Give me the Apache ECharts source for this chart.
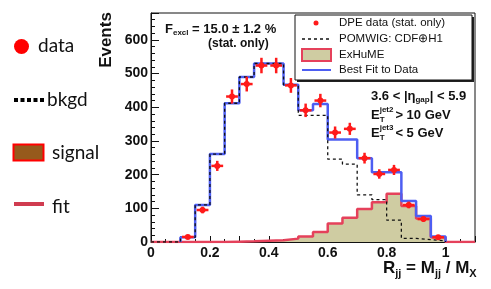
<!DOCTYPE html>
<html><head><meta charset="utf-8">
<script src="https://cdn.jsdelivr.net/npm/echarts@6/dist/echarts.min.js"></script>
<style>html,body{margin:0;padding:0;background:#fff}#c{width:491px;height:289px}</style>
</head><body><div id="c"></div>
<script>
// ---- data ----
const binWidth = 0.05;
const binStarts = [0,0.05,0.10,0.15,0.20,0.25,0.30,0.35,0.40,0.45,0.50,0.55,0.60,0.65,0.70,0.75,0.80,0.85,0.90,0.95,1.00,1.05];
const fitValues    = [0,0,14,110,261,412,490,530,530,467,391,410,304,304,249,207,207,122,77,16,0,0];
const bkgdValues   = [0,0,14,110,261,412,490,530,530,467,376,376,246,231,140,126,65,11,7,3,0,0];
const signalValues = [0,0,0,0,0,1,2,4,5,10,16,30,55,72,98,118,143,107,70,14,0,0];
const dataX   = [0.125,0.175,0.225,0.275,0.325,0.375,0.425,0.475,0.525,0.575,0.625,0.675,0.725,0.775,0.825,0.875,0.925,0.975];
const dataY   = [15,95,226,432,469,524,524,465,391,420,325,336,249,202,214,110,68,14];
const dataErr = [4,10,15,21,22,23,23,22,20,20,18,18,16,14,15,10,8,4];
const xLabelValues = [0,0.2,0.4,0.6,0.8,1];
const yLabelValues = [0,100,200,300,400,500,600];

const legendLabels = ['DPE data (stat. only)','POMWIG: CDF\u2295H1','ExHuME','Best Fit to Data'];
const sideLegendLabels = ['data','bkgd','signal','fit'];

// ---- helpers ----
function stepData(vals, trimStart, trimEnd){
  let a = 0, b = vals.length - 1;
  if (trimStart) while (a <= b && vals[a] === 0) a++;
  if (trimEnd) while (b >= a && vals[b] === 0) b--;
  const pts = [];
  if (trimStart) pts.push([binStarts[a], 0]);
  for (let i = a; i <= b; i++) pts.push([binStarts[i], vals[i]]);
  pts.push([+(binStarts[b] + binWidth).toFixed(4), vals[b]]);
  if (trimEnd) pts.push([+(binStarts[b] + binWidth).toFixed(4), 0]);
  return pts;
}
const FF = '"Liberation Sans", Arial, sans-serif';
const cv = document.createElement('canvas').getContext('2d');
function runs(x, y, parts, color){
  const els = [];
  let cx = x;
  parts.forEach(p => {
    const font = 'bold ' + p[1] + 'px ' + FF;
    els.push({type:'text', x: cx, y: y + (p[2]||0), z: 100,
      style:{text:p[0], font: font, fill: color||'#111', textAlign:'left', textVerticalAlign:'middle'}});
    cv.font = font;
    if (!p[3]) cx += cv.measureText(p[0]).width;
  });
  return els;
}

const chart = echarts.init(document.getElementById('c'), null, {renderer:'canvas'});
const dataPts = dataX.map((x,i)=>[x, dataY[i], dataErr[i]]);

const graphics = [];
// axis titles
graphics.push({type:'text', x:106, y:40, rotation:Math.PI/2, z:100,
  style:{text:'Events', font:'bold 17px '+FF, fill:'#111', textAlign:'center', textVerticalAlign:'middle'}});
graphics.push(...runs(383, 268, [['R',17,0],['jj',11,6],[' = M',17,0],['jj',11,6],[' / M',17,0],['X',11,6]]));
// F_excl
graphics.push(...runs(165, 29, [['F',13,0],['excl',8,4],[' = 15.0 \u00b1 1.2 %',13,0]]));
graphics.push({type:'text', x:208, y:44, z:100, style:{text:'(stat. only)', font:'bold 12px '+FF, fill:'#111', textAlign:'left', textVerticalAlign:'middle'}});
// cuts
graphics.push(...runs(371, 96, [['3.6 < |\u03b7',13,0],['gap',8,4],['| < 5.9',13,0]]));
graphics.push(...runs(371, 115, [['E',13,0],['jet2',8,-5,1],['T',8,5],['   > 10 GeV',13,0]]));
graphics.push(...runs(371, 133, [['E',13,0],['jet3',8,-5,1],['T',8,5],['   < 5 GeV',13,0]]));
// inner legend box
graphics.push({type:'rect', shape:{x:297,y:17,width:177,height:65}, style:{fill:'#222'}, z:90});
graphics.push({type:'rect', shape:{x:295,y:15,width:177,height:65}, style:{fill:'#fff', stroke:'#111', lineWidth:1}, z:91});
graphics.push({type:'circle', shape:{cx:316, cy:23, r:2.5}, style:{fill:'#ff1a1a'}, z:95});
graphics.push({type:'line', shape:{x1:302,y1:39,x2:330,y2:39}, style:{stroke:'#111', lineWidth:1.3, lineDash:[3,3]}, z:95});
graphics.push({type:'rect', shape:{x:302,y:49,width:29,height:12}, style:{fill:'#cfcca2', stroke:'#e5415b', lineWidth:2}, z:95});
graphics.push({type:'line', shape:{x1:302,y1:70,x2:331,y2:70}, style:{stroke:'#4d5ef2', lineWidth:2}, z:95});
[23,39,55,70].forEach((yy,i)=>{
  graphics.push({type:'text', x:339, y:yy, z:95, style:{text:legendLabels[i], font:'11.5px '+FF, fill:'#111', textAlign:'left', textVerticalAlign:'middle'}});
});
// side legend
const SF = 'Lato, "Open Sans", sans-serif';
graphics.push({type:'circle', shape:{cx:21.5, cy:46.5, r:7.5}, style:{fill:'#ff0000'}});
graphics.push({type:'line', shape:{x1:14,y1:100,x2:44,y2:100}, style:{stroke:'#000', lineWidth:4, lineDash:[4,2.5]}});
graphics.push({type:'rect', shape:{x:13.5,y:144.5,width:30,height:16}, style:{fill:'#965a1c', stroke:'#ff0000', lineWidth:2}});
graphics.push({type:'line', shape:{x1:14,y1:204,x2:44,y2:204}, style:{stroke:'#d03c50', lineWidth:4}});
[[38,46],[47,100],[52,153],[52,207]].forEach((p,i)=>{
  graphics.push({type:'text', x:p[0], y:p[1], style:{text:sideLegendLabels[i], font:'19px '+SF, fill:'#111', textAlign:'left', textVerticalAlign:'middle'}});
});

const option = {
  animation:false,
  grid:{left:151, right:16, top:13, bottom:47, show:true, borderColor:'#111', borderWidth:1, backgroundColor:'transparent'},
  xAxis:{type:'value', min:0, max:1.1, interval:0.1,
    axisLine:{show:true, lineStyle:{color:'#111', width:1}},
    axisTick:{show:true, inside:true, length:6, lineStyle:{color:'#111'}},
    minorTick:{show:true, splitNumber:2, length:3, lineStyle:{color:'#111'}},
    splitLine:{show:false},
    axisLabel:{margin:4, color:'#111', fontWeight:'bold', fontSize:14, fontFamily:FF,
      showMaxLabel:false,
      formatter:v=>{ const m = xLabelValues.find(t=>Math.abs(t-v)<1e-6); return m===undefined?'':String(m); }}
  },
  yAxis:{type:'value', min:0, max:680, interval:100,
    axisLine:{show:true, lineStyle:{color:'#111', width:1}},
    axisTick:{show:true, inside:true, length:8, lineStyle:{color:'#111'}},
    minorTick:{show:true, splitNumber:5, length:4, lineStyle:{color:'#111'}},
    splitLine:{show:false},
    axisLabel:{margin:3, color:'#111', fontWeight:'bold', fontSize:14, fontFamily:FF,
      formatter:v=>{ const m = yLabelValues.find(t=>Math.abs(t-v)<1e-6); return m===undefined?'':String(m); }}
  },
  series:[
    {type:'line', step:'end', data:stepData(signalValues,false,false), showSymbol:false, symbol:'none', z:2,
      lineStyle:{color:'#e5415b', width:2.5}, areaStyle:{color:'#cfcca2', opacity:1}},
    {type:'line', step:'end', data:stepData(fitValues,true,true), showSymbol:false, symbol:'none', z:3,
      lineStyle:{color:'#4d5ef2', width:2.5}},
    {type:'line', step:'end', data:stepData(bkgdValues,false,true), showSymbol:false, symbol:'none', z:4,
      lineStyle:{color:'#111', width:1.3, type:[3,3]}},
    {type:'custom', z:5, data:dataPts, encode:{x:0,y:1},
      renderItem:(params, api)=>{
        const x = api.value(0), y = api.value(1), e = api.value(2);
        const c = api.coord([x,y]);
        const l = api.coord([x-0.02,y]), r = api.coord([x+0.02,y]);
        const t = api.coord([x,y+e]), b = api.coord([x,y-e]);
        const st = {stroke:'#ff1a1a', lineWidth:2.5};
        return {type:'group', children:[
          {type:'line', shape:{x1:l[0],y1:l[1],x2:r[0],y2:r[1]}, style:st},
          {type:'line', shape:{x1:t[0],y1:t[1],x2:b[0],y2:b[1]}, style:st},
          {type:'circle', shape:{cx:c[0],cy:c[1],r:3}, style:{fill:'#ff1a1a'}}
        ]};
      }}
  ],
  graphic:{elements:graphics}
};
chart.setOption(option);
</script></body></html>
